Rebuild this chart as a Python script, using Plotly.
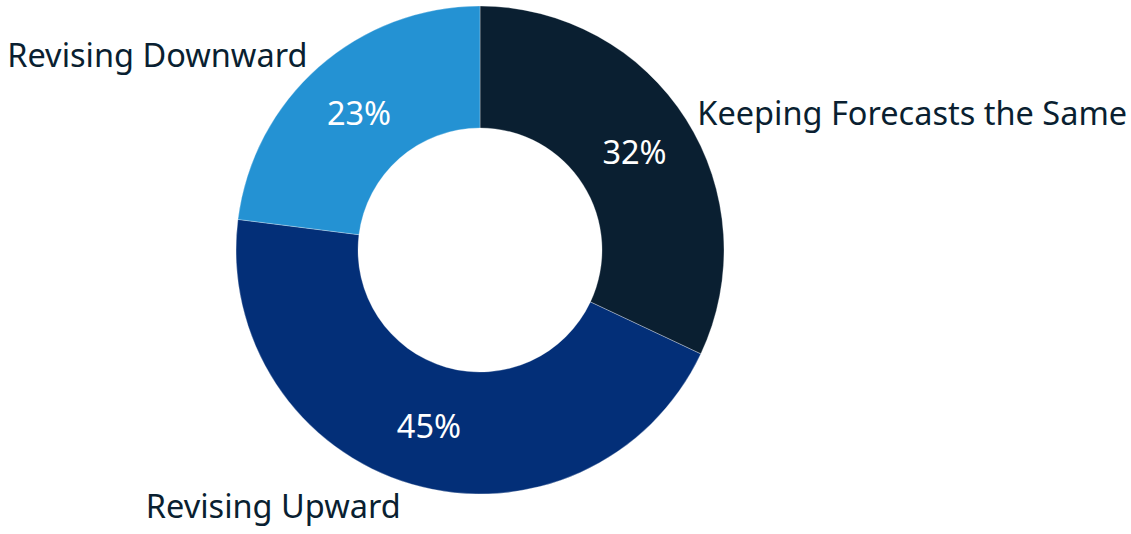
import plotly.graph_objects as go

labels = ["Keeping Forecasts the Same", "Revising Upward", "Revising Downward"]
shares = [32, 45, 23]
colors = ["#0a1f31", "#032f78", "#2492d3"]

W, H = 1131, 534
cx, cy, r = 480, 250, 244
dom_x = [(cx - r) / W, (cx + r) / W]
dom_y = [1 - (cy + r) / H, 1 - (cy - r) / H]

font_family = "'Noto Sans', Lato, sans-serif"

fig = go.Figure()

# Donut with percentages inside each slice
fig.add_trace(go.Pie(
    labels=labels,
    values=shares,
    hole=0.5,
    sort=False,
    direction="clockwise",
    rotation=0,
    marker=dict(colors=colors, line=dict(color="rgba(255,255,255,0.5)", width=0.6)),
    texttemplate="%{value}%",
    textposition="inside",
    insidetextorientation="horizontal",
    textfont=dict(family=font_family, size=32.5, color="white"),
    domain=dict(x=dom_x, y=dom_y),
    showlegend=False,
))

# Same geometry, transparent, carrying the category names outside
fig.add_trace(go.Pie(
    labels=labels,
    values=shares,
    hole=0.5,
    sort=False,
    direction="clockwise",
    rotation=0,
    marker=dict(colors=["rgba(0,0,0,0)"] * 3, line=dict(width=0)),
    textinfo="label",
    textposition="outside",
    textfont=dict(family=font_family, size=32.5, color="#0a1f31"),
    domain=dict(x=dom_x, y=dom_y),
    hoverinfo="skip",
    showlegend=False,
    automargin=False,
))

fig.update_layout(
    width=W, height=H,
    margin=dict(l=0, r=0, t=0, b=0),
    paper_bgcolor="white",
    plot_bgcolor="white",
    uniformtext=dict(minsize=10, mode="show"),
)

fig.write_html("out.html")
